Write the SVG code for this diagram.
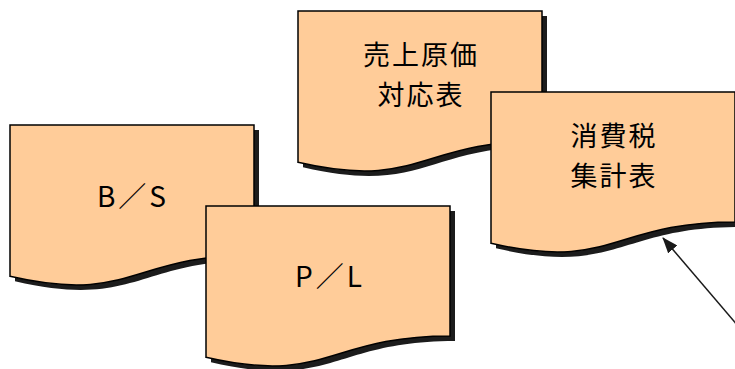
<svg xmlns="http://www.w3.org/2000/svg" xmlns:xlink="http://www.w3.org/1999/xlink" width="735" height="369" viewBox="0 0 735 369">
<style>
.shadow{fill:#1c1c1c;stroke:none}
.doc{fill:#FFCC99;stroke:#000;stroke-width:1.5}
.lbl{font-family:"Noto Sans CJK JP","Noto Sans",sans-serif;font-size:27px;fill:#000;text-anchor:middle;letter-spacing:2px}
.lat{font-family:"Noto Sans CJK JP","Noto Sans",sans-serif;font-size:28px;fill:#000;text-anchor:middle;letter-spacing:3px}
.conn{stroke:#1a1a1a;stroke-width:1.5;fill:none}
</style>
<defs>
<path id="docShape" d="M0,0 H244 V130 C122,130 122,179.4 0,151.3 Z"/>
<marker id="arrow" viewBox="0 0 16 12" refX="15" refY="6" markerWidth="16" markerHeight="12" markerUnits="userSpaceOnUse" orient="auto">
<path d="M0,0 L16,6 L0,12 Z" fill="#1a1a1a"/>
</marker>
</defs>
<g id="node-urigen">
<use xlink:href="#docShape" class="shadow" transform="translate(303,16)"/>
<use xlink:href="#docShape" class="doc" transform="translate(298,11)"/>
<text class="lbl" x="421" y="65">売上原価</text>
<text class="lbl" x="421" y="105">対応表</text>
</g>
<g id="node-shohizei">
<use xlink:href="#docShape" class="shadow" transform="translate(496,97)"/>
<use xlink:href="#docShape" class="doc" transform="translate(491,92)"/>
<text class="lbl" x="614" y="146">消費税</text>
<text class="lbl" x="614" y="186">集計表</text>
</g>
<g id="node-bs">
<use xlink:href="#docShape" class="shadow" transform="translate(15,130)"/>
<use xlink:href="#docShape" class="doc" transform="translate(10,125)"/>
<text class="lat" x="133" y="207">B／S</text>
</g>
<g id="node-pl">
<use xlink:href="#docShape" class="shadow" transform="translate(211,211)"/>
<use xlink:href="#docShape" class="doc" transform="translate(206,206)"/>
<text class="lat" x="330" y="287">P／L</text>
</g>
<g id="connectors">
<line class="conn" x1="745" y1="334" x2="663" y2="238" marker-end="url(#arrow)"/>
</g>
</svg>
